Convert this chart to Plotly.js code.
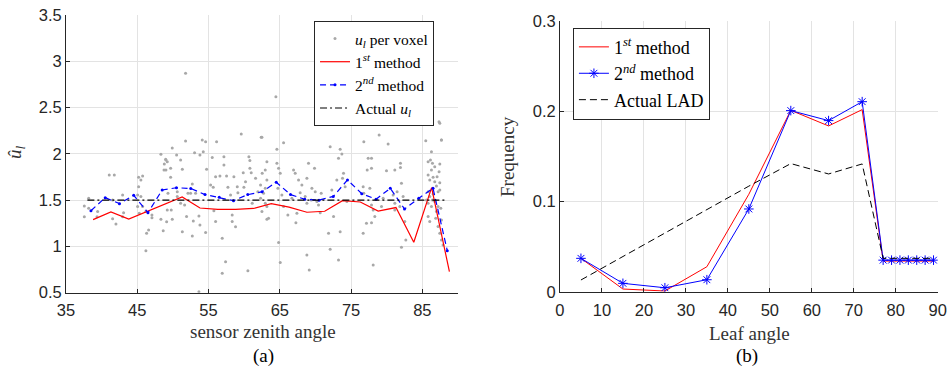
<!DOCTYPE html>
<html>
<head>
<meta charset="utf-8">
<script src="https://cdn.plot.ly/plotly-3.0.1.min.js"></script>
<style>html,body{margin:0;padding:0;background:#fff;}#chart{width:947px;height:367px;}</style>
</head>
<body>
<div id="chart"></div>
<script>
// ---------- Panel (a): per-voxel u_l estimates ----------
const voxelAngle = [
37.57,37.57,38.18,38.18,39.44,39.35,41.07,41.78,41.54,41.54,42.01,42.94,43.08,42.94,45.19,45.75,45.51,45.19,45.05,45.51,45.05,45.28,45.75,46.21,46.31,46.59,46.21,47.06,47.06,48.32,48.79,48.64,49.02,49.02,48.32,
51.78,48.98,49.21,48.75,49.68,49.91,50.52,51.08,51.32,49.68,49.31,49.21,49.77,49.12,49.91,50.61,50.61,51.08,51.32,51.78,51.64,51.92,52.11,52.48,52.72,53.04,53.18,52.86,52.72,53.65,53.79,53.79,54.12,54.26,54.59,54.59,54.73,55.52,55.29,55.66,55.75,55.99,55.99,56.13,56.60,56.92,57.16,57.16,57.39,56.92,57.53,57.72,58.09,58.32,58.32,58.56,58.79,59.03,59.12,59.59,59.87,59.96,60.19,60.66,60.80,60.80,60.99,61.13,60.52,61.60,61.92,62.39,62.30,62.30,62.53,53.65,
64.45,62.49,63.19,62.96,64.59,65.53,64.59,64.83,65.06,64.73,63.19,62.96,62.96,63.19,63.42,63.19,65.29,65.53,66.13,66.70,66.93,67.16,67.40,67.26,67.63,67.86,68.10,68.80,68.56,68.80,69.03,69.50,69.41,69.87,69.97,70.20,70.43,70.81,70.67,71.60,71.84,72.07,72.30,72.54,73.00,73.24,73.47,73.71,73.94,73.80,74.17,74.41,73.47,73.24,72.07,68.80,69.13,64.83,65.06,62.49,62.72,
76.79,78.94,80.20,77.40,77.87,77.26,77.87,79.97,81.14,81.93,81.93,76.70,77.63,76.79,77.87,78.10,78.33,77.87,77.16,76.70,79.27,79.50,80.90,81.14,81.14,81.46,82.07,81.84,82.30,82.54,82.68,82.07,78.10,
85.48,86.28,87.45,87.68,85.81,86.14,86.42,86.28,86.74,87.45,87.35,85.81,86.04,86.51,86.74,87.07,86.98,87.45,85.81,86.04,86.51,87.21,87.45,85.81,86.28,86.74,87.21,86.98,85.81,86.04,86.88,87.68,87.21,87.45,87.68,87.91,85.58,86.42,87.59,87.34,87.67
];
const voxelU = [
1.437,1.321,1.520,1.412,1.376,1.321,1.772,1.772,1.502,1.300,1.242,1.556,1.365,1.321,1.746,1.761,1.718,1.646,1.556,1.538,1.430,1.358,1.430,1.376,1.142,1.178,0.954,1.340,1.311,1.995,1.891,1.170,1.934,1.826,1.293,
2.870,1.941,1.916,1.826,1.844,2.063,1.988,1.934,1.833,1.746,1.574,1.394,1.394,1.267,1.293,1.592,1.538,1.466,1.159,2.139,1.448,1.322,1.574,1.574,1.674,2.013,1.574,1.275,1.113,1.329,1.232,1.988,2.150,2.024,2.132,1.149,1.833,1.962,1.664,1.638,1.386,1.268,1.754,2.132,1.761,1.087,1.880,1.970,0.835,0.709,1.761,1.638,1.556,1.268,1.340,1.754,1.213,1.646,1.581,2.215,1.797,1.638,1.700,1.970,1.927,1.844,1.797,1.466,0.738,1.736,1.592,2.179,1.664,1.520,1.790,0.511,
2.618,2.179,1.916,1.826,2.049,2.121,1.898,1.844,1.790,1.628,1.718,1.628,1.466,1.430,1.304,1.293,1.556,1.430,1.340,1.520,1.826,1.790,1.358,1.257,1.718,1.581,1.664,1.736,1.538,1.466,1.898,1.628,1.502,1.844,1.592,1.484,1.448,1.574,1.365,2.456,1.141,2.078,1.610,1.322,1.718,1.952,2.049,1.999,1.790,1.736,1.646,1.484,1.159,0.853,0.969,0.907,0.745,1.041,0.825,1.376,1.574,
2.132,2.204,2.107,1.952,1.952,1.826,1.844,1.818,1.826,1.898,1.854,1.646,1.628,1.574,1.448,1.394,1.322,1.257,1.250,1.141,1.430,1.520,1.556,1.466,1.394,1.592,1.682,1.430,1.538,1.268,1.069,0.990,0.799,
2.143,2.024,2.330,2.150,1.916,1.934,1.898,1.826,1.862,1.891,1.808,1.772,1.718,1.746,1.700,1.754,1.653,1.689,1.592,1.538,1.566,1.592,1.610,1.466,1.430,1.484,1.430,1.376,1.322,1.268,1.304,1.286,1.214,1.141,1.069,1.015,1.502,1.502,1.412,2.348,2.150
];
const method1Angle = [38.8,41.3,43.8,46.3,48.8,51.3,53.8,56.3,58.8,61.3,63.8,66.3,68.8,71.3,73.8,76.3,78.8,81.3,83.8,86.3,88.8];
const method1U     = [1.289,1.372,1.296,1.375,1.455,1.534,1.415,1.401,1.400,1.410,1.462,1.425,1.369,1.380,1.494,1.480,1.382,1.420,1.045,1.635,0.727];
const method2Angle = [38.5,40.5,42.5,44.5,46.5,48.5,50.5,52.5,54.5,56.5,58.5,60.5,62.5,64.5,66.5,68.5,70.5,72.5,74.5,76.5,78.5,80.5,82.5,84.5,86.5,88.5];
const method2U     = [1.386,1.527,1.462,1.552,1.365,1.610,1.634,1.626,1.560,1.530,1.494,1.560,1.590,1.693,1.560,1.510,1.500,1.540,1.718,1.570,1.510,1.628,1.404,1.520,1.628,0.954];
const actualAngle  = [38.0,88.5];
const actualU      = [1.5,1.5];

// ---------- Panel (b): leaf angle distribution ----------
const leafAngle   = [5,15,25,35,45,55,64,72,77,79,81,83,85,87,89];
const freqMethod1 = [0.037,0.003,0.0008,0.0277,0.108,0.201,0.1837,0.2018,0.034,0.034,0.034,0.034,0.034,0.034,0.034];
const freqMethod2 = [0.037,0.0093,0.0044,0.0133,0.0917,0.2007,0.1896,0.2106,0.035,0.035,0.035,0.035,0.035,0.035,0.035];
const freqActual  = [0.013,0.039,0.065,0.091,0.117,0.142,0.1305,0.1416,0.037,0.037,0.037,0.037,0.037,0.037,0.037];

const SERIF = '"Liberation Serif", "Times New Roman", serif';
const SANS = '"Liberation Sans", Arial, sans-serif';
const AX = '#262626';
const GRID = '#e3e3e3';

const traces = [
  {x: voxelAngle, y: voxelU, mode: 'markers', type: 'scatter', name: '<i>u</i><sub><i>l</i></sub> per voxel',
   marker: {color: '#a8a8a8', size: 3}, xaxis: 'x', yaxis: 'y', legend: 'legend'},
  {x: method1Angle, y: method1U, mode: 'lines', type: 'scatter', name: '1<sup><i>st</i></sup> method',
   line: {color: '#ff0000', width: 1.2}, xaxis: 'x', yaxis: 'y', legend: 'legend'},
  {x: method2Angle, y: method2U, mode: 'lines+markers', type: 'scatter', name: '2<sup><i>nd</i></sup> method',
   line: {color: '#0000ff', width: 1.2, dash: '6px,4px'}, marker: {color: '#0000ff', size: 3},
   xaxis: 'x', yaxis: 'y', legend: 'legend'},
  {x: actualAngle, y: actualU, mode: 'lines', type: 'scatter', name: 'Actual <i>u</i><sub><i>l</i></sub>',
   line: {color: '#000000', width: 1.2, dash: '7px,3px,2px,3px'}, xaxis: 'x', yaxis: 'y', legend: 'legend'},

  {x: leafAngle, y: freqMethod1, mode: 'lines', type: 'scatter', name: '1<sup><i>st</i></sup> method',
   line: {color: '#ff0000', width: 1}, xaxis: 'x2', yaxis: 'y2', legend: 'legend2'},
  {x: leafAngle, y: freqMethod2, mode: 'lines+markers', type: 'scatter', name: '2<sup><i>nd</i></sup> method',
   line: {color: '#0000ff', width: 1},
   marker: {symbol: 'asterisk-open', size: 8, color: '#0000ff', line: {color: '#0000ff', width: 1}},
   xaxis: 'x2', yaxis: 'y2', legend: 'legend2'},
  {x: leafAngle, y: freqActual, mode: 'lines', type: 'scatter', name: 'Actual LAD',
   line: {color: '#000000', width: 1, dash: '7px,4px'}, xaxis: 'x2', yaxis: 'y2', legend: 'legend2'}
];

const axisCommon = {
  showgrid: true, gridcolor: GRID, gridwidth: 1, zeroline: false,
  showline: true, linecolor: AX, linewidth: 1, ticks: 'inside', ticklen: 4, tickcolor: AX,
  tickfont: {family: SANS, size: 16.5, color: AX}, automargin: false, fixedrange: true
};

const layout = {
  width: 947, height: 367,
  margin: {l: 0, r: 0, t: 0, b: 0},
  paper_bgcolor: '#ffffff', plot_bgcolor: '#ffffff',
  showlegend: true,
  xaxis: Object.assign({}, axisCommon, {domain: [0.0697, 0.4836], range: [35, 90], tick0: 35, dtick: 10, anchor: 'y', ticklabelstandoff: 3}),
  yaxis: Object.assign({}, axisCommon, {domain: [0.2025, 0.959], range: [0.5, 3.5], tick0: 0.5, dtick: 0.5, anchor: 'x'}),
  xaxis2: Object.assign({}, axisCommon, {domain: [0.5913, 0.9902], range: [0, 90], tick0: 0, dtick: 10, anchor: 'y2', ticklabelstandoff: 3}),
  yaxis2: Object.assign({}, axisCommon, {domain: [0.2051, 0.9428], range: [0, 0.3], tick0: 0, dtick: 0.1, anchor: 'x2'}),
  legend: {x: 0.3316, y: 0.9428, xanchor: 'left', yanchor: 'top', bgcolor: '#ffffff',
           bordercolor: AX, borderwidth: 1, font: {family: SERIF, size: 15.5, color: '#000'},
           itemwidth: 30, tracegroupgap: 0},
  legend2: {x: 0.605, y: 0.9246, xanchor: 'left', yanchor: 'top', bgcolor: '#ffffff',
            bordercolor: AX, borderwidth: 1, font: {family: SERIF, size: 18, color: '#000'},
            itemwidth: 30, tracegroupgap: 0},
  annotations: [
    {text: 'sensor zenith angle', x: 263 / 947, y: 1 - 331 / 367, xref: 'paper', yref: 'paper',
     xanchor: 'center', yanchor: 'middle', showarrow: false, font: {family: SERIF, size: 19, color: '#333'}},
    {text: '(a)', x: 263 / 947, y: 1 - 356 / 367, xref: 'paper', yref: 'paper',
     xanchor: 'center', yanchor: 'middle', showarrow: false, font: {family: SERIF, size: 19, color: '#000'}},
    {text: '<i>û</i><sub><i>l</i></sub>', x: 16 / 947, y: 1 - 152 / 367, xref: 'paper', yref: 'paper',
     xanchor: 'center', yanchor: 'middle', showarrow: false, textangle: -90, font: {family: SERIF, size: 19, color: '#333'}},
    {text: 'Leaf angle', x: 749 / 947, y: 1 - 333 / 367, xref: 'paper', yref: 'paper',
     xanchor: 'center', yanchor: 'middle', showarrow: false, font: {family: SERIF, size: 19, color: '#333'}},
    {text: '(b)', x: 747 / 947, y: 1 - 356 / 367, xref: 'paper', yref: 'paper',
     xanchor: 'center', yanchor: 'middle', showarrow: false, font: {family: SERIF, size: 19, color: '#000'}},
    {text: 'Frequency', x: 507 / 947, y: 1 - 157 / 367, xref: 'paper', yref: 'paper',
     xanchor: 'center', yanchor: 'middle', showarrow: false, textangle: -90, font: {family: SERIF, size: 19, color: '#333'}}
  ]
};

Plotly.newPlot('chart', traces, layout, {displayModeBar: false, staticPlot: true});
</script>
</body>
</html>
